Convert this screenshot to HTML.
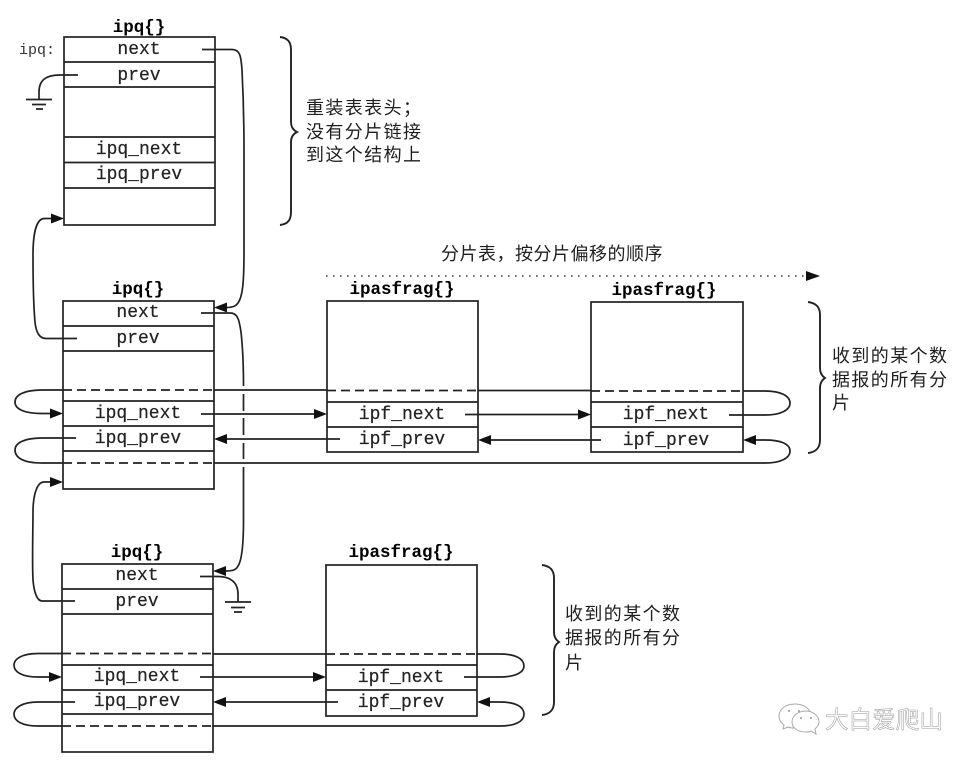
<!DOCTYPE html>
<html><head><meta charset="utf-8"><style>
html,body{margin:0;padding:0;background:#fff}
svg{display:block}
.m{font-family:"Liberation Mono",monospace;font-size:18px;fill:#222;stroke:#222;stroke-width:.2;text-anchor:middle}
.b{font-family:"Liberation Mono",monospace;font-size:17.5px;font-weight:bold;fill:#000;text-anchor:middle}
.c{font-family:"Liberation Sans","Noto Sans CJK SC",sans-serif;font-size:18px;letter-spacing:1.4px;fill:#1f1f1f}
.l{fill:none;stroke:#222;stroke-width:1.7}
.d{fill:none;stroke:#222;stroke-width:1.7;stroke-dasharray:9 5}
.br{fill:none;stroke:#222;stroke-width:1.9}
</style></head><body>
<svg width="976" height="762" viewBox="0 0 976 762" xmlns="http://www.w3.org/2000/svg">
<defs>
<polygon id="ar" points="0,0 -13,-5 -13,5" fill="#111"/>
<polygon id="al" points="0,0 13,-5 13,5" fill="#111"/>
</defs>
<rect width="976" height="762" fill="#fff"/>

<!-- Box 1 -->
<rect class="l" x="64" y="37" width="151" height="188"/>
<path class="l" d="M64 62H215M64 87H215M64 137H215M64 162.500H215M64 188H215"/>
<text class="b" x="139" y="32">ipq{}</text>
<text x="19" y="54" style="font-family:'Liberation Mono',monospace;font-size:15px;fill:#333">ipq:</text>
<text class="m" x="139" y="54">next</text>
<text class="m" x="139" y="80">prev</text>
<text class="m" x="139" y="154">ipq_next</text>
<text class="m" x="139" y="179">ipq_prev</text>

<!-- Box 2 -->
<rect class="l" x="63" y="301" width="151" height="188"/>
<path class="l" d="M63 326H214M63 351H214M63 401H214M63 426H214M63 451H214"/>
<path class="d" d="M63 390H214M63 463H214"/>
<text class="b" x="138" y="294">ipq{}</text>
<text class="m" x="138" y="317">next</text>
<text class="m" x="138" y="343">prev</text>
<text class="m" x="138" y="418">ipq_next</text>
<text class="m" x="138" y="443">ipq_prev</text>

<!-- ipasfrag 1 -->
<rect class="l" x="327" y="301" width="151" height="151"/>
<path class="l" d="M327 402H478M327 427H478"/>
<path class="d" d="M327 390.500H478"/>
<text class="b" x="402" y="294">ipasfrag{}</text>
<text class="m" x="402" y="419">ipf_next</text>
<text class="m" x="402" y="444">ipf_prev</text>

<!-- ipasfrag 2 -->
<rect class="l" x="591" y="302" width="152" height="150"/>
<path class="l" d="M591 402H743M591 427H743"/>
<path class="d" d="M591 391H743"/>
<text class="b" x="664" y="295">ipasfrag{}</text>
<text class="m" x="666" y="419">ipf_next</text>
<text class="m" x="666" y="445">ipf_prev</text>

<!-- Box 3 -->
<rect class="l" x="62" y="564" width="151" height="188"/>
<path class="l" d="M62 589H213M62 614H213M62 665H213M62 690H213M62 714H213"/>
<path class="d" d="M62 653.500H213M62 726H213"/>
<text class="b" x="137" y="557">ipq{}</text>
<text class="m" x="137" y="580">next</text>
<text class="m" x="137" y="606">prev</text>
<text class="m" x="137" y="681">ipq_next</text>
<text class="m" x="137" y="706">ipq_prev</text>

<!-- ipasfrag 3 -->
<rect class="l" x="326" y="565" width="151" height="151"/>
<path class="l" d="M326 665H477M326 690H477"/>
<path class="d" d="M326 654H477"/>
<text class="b" x="401" y="557">ipasfrag{}</text>
<text class="m" x="401" y="682">ipf_next</text>
<text class="m" x="401" y="707">ipf_prev</text>

<!-- long right connectors -->
<path class="l" d="M202 49.500H232C240 49.500 241 56 242 70C243 90 244 120 244 150V250C244 280 243 296 238 303C236 306 233 307.500 226 307.500"/>
<use href="#al" x="214" y="307.500"/>
<path class="l" d="M201 313H230C237 313 239 318 241 332C243 350 243.500 370 243.500 386M243.500 394V411M243.500 418V435M243.500 443V459M243.500 467V520C243.500 545 242 560 238 566C236 570 233 571 225 571"/>
<use href="#al" x="213" y="571"/>

<!-- next to ground, box 3 -->
<path class="l" d="M200 576.500H218C230 576.500 238 582 238 594V602"/>
<path class="l" d="M225 602H251M231 607.500H245M234 612H242"/>
<!-- prev to ground, box 1 -->
<path class="l" d="M78 75H60C46 75 39 80 39 92V99"/>
<path class="l" d="M26 99.500H52M32 104.500H46M36 109H43"/>

<!-- left return arrows -->
<path class="l" d="M77 338.500H46C39 338.500 36 332 35 322C33 300 33 275 33 255C33 235 36 219 44 218.500H52"/>
<use href="#ar" x="64" y="218.500"/>
<path class="l" d="M75 601H42C37 601 34 592 33 580C32 560 33 530 33 512C33 495 37 482 44 482H51"/>
<use href="#ar" x="63" y="482"/>

<!-- row 2 loops -->
<path class="l" d="M63 390H42C24 390 15 395 15 402C15 409 24 413.500 42 413.500H51"/>
<use href="#ar" x="63" y="413.500"/>
<path class="l" d="M214 390H327M478 390.500H591M743 391H765C781 391 790 396 790 403C790 410 781 415 765 415H729"/>
<path class="l" d="M201 414H315"/><use href="#ar" x="327" y="414"/>
<path class="l" d="M465 414.500H579"/><use href="#ar" x="591" y="414.500"/>
<path class="l" d="M340 439H226"/><use href="#al" x="214" y="439"/>
<path class="l" d="M601 440H490"/><use href="#al" x="478" y="440"/>
<path class="l" d="M76 438H42C24 438 15 443 15 450C15 458 24 463 42 463H63M214 463H765C781 463 790 458 790 451C790 444 781 440 765 440H755"/>
<use href="#al" x="743" y="440"/>

<!-- row 3 loops -->
<path class="l" d="M62 653.500H38C22 653.500 14 659 14 665C14 672 22 677 38 677H50"/>
<use href="#ar" x="62" y="677"/>
<path class="l" d="M213 654H326M477 654H500C516 654 524 659 524 666C524 672 516 677 500 677H464"/>
<path class="l" d="M200 677H314"/><use href="#ar" x="326" y="677"/>
<path class="l" d="M338 702H225"/><use href="#al" x="213" y="702"/>
<path class="l" d="M75 702H38C22 702 14 708 14 714C14 721 22 726 38 726H62M213 726H500C516 726 524 721 524 714C524 707 516 702 500 702H489"/>
<use href="#al" x="477" y="702"/>

<!-- dotted arrow -->
<path fill="none" stroke="#444" stroke-width="1.6" stroke-dasharray="1.6 5.4" d="M326 276H806"/>
<polygon points="806,271 820,276 806,281" fill="#111"/>

<!-- braces -->
<path class="br" d="M280 37C288 38 291 42 291 50V122C291 127 293 130 297 132C293 134 291 137 291 142V212C291 220 288 224 280 225"/>
<path class="br" d="M808 302C816 303 820 307 820 315V368C820 373 822 376 825 378C822 380 820 383 820 388V440C820 448 816 452 808 453"/>
<path class="br" d="M542 565C550 566 554 570 554 578V632C554 637 556 640 559 642C556 644 554 647 554 652V702C554 710 550 714 542 715"/>

<!-- Chinese labels -->
<text class="c" x="306" y="114">重装表表头&#xFF1B;</text>
<text class="c" x="306" y="138">没有分片链接</text>
<text class="c" x="306" y="161">到这个结构上</text>
<text class="c" x="441" y="260" style="letter-spacing:.5px">分片表&#xFF0C;按分片偏移的顺序</text>
<text class="c" x="832" y="362">收到的某个数</text>
<text class="c" x="832" y="386">据报的所有分</text>
<text class="c" x="832" y="409">片</text>
<text class="c" x="565" y="620">收到的某个数</text>
<text class="c" x="565" y="644">据报的所有分</text>
<text class="c" x="565" y="669">片</text>

<!-- watermark -->
<g fill="#fff" stroke="#aaa" stroke-width="1">
<path d="M795 704C786 704 779 709 779 716C779 720 781 723 784 725L783 729L788 727C790 728 792 728 794 728C800 728 811 722 811 716C811 709 804 704 795 704Z"/>
<path d="M806 711C798 711 792 716 792 722C792 728 798 732 806 732C808 732 810 732 811 731L816 734L815 729C817 727 819 725 819 722C819 716 813 711 806 711Z"/>
</g>
<g fill="#999"><circle cx="789" cy="711" r="1"/><circle cx="799" cy="711" r="1"/><circle cx="801" cy="718" r="1"/><circle cx="811" cy="718" r="1"/></g>
<text x="825" y="728" style="font-family:'Liberation Sans','Noto Sans CJK SC',sans-serif;font-size:23.600px;fill:#fff;stroke:#999;stroke-width:.5">大白爱爬山</text>
</svg>
</body></html>
